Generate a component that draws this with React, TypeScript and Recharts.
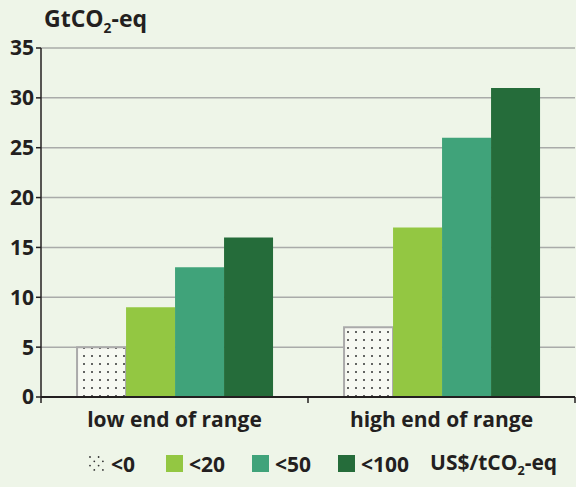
import React from "react";
import { BarChart, Bar, XAxis, YAxis, CartesianGrid } from "recharts";

// values (GtCO2-eq)
const categories = ["low end of range", "high end of range"];
const below0 = [5, 7];
const below20 = [9, 17];
const below50 = [13, 26];
const below100 = [16, 31];
const yTicks = [0, 5, 10, 15, 20, 25, 30, 35];

const series = [
  { key: "p0", label: "<0", values: below0, fill: "url(#dots)", color: "#f7f9f2" },
  { key: "p20", label: "<20", values: below20, fill: "#93c742", color: "#93c742" },
  { key: "p50", label: "<50", values: below50, fill: "#40a37a", color: "#40a37a" },
  { key: "p100", label: "<100", values: below100, fill: "#256c3a", color: "#256c3a" },
];

const data = categories.map((name, i) => {
  const row: Record<string, string | number> = { name };
  series.forEach((s) => (row[s.key] = s.values[i]));
  return row;
});

const W = 576;
const H = 487;
const FONT = "'Open Sans', sans-serif";
const INK = "#231f20";
const BG = "#eef5e8";
const PLOT_LEFT = 41;
const PLOT_RIGHT = 1;
const HALF_BAND = (W - PLOT_LEFT - PLOT_RIGHT) / categories.length / 2;

const CategoryTick = (props: any) => {
  const { x, y, payload, index } = props;
  return (
    <g>
      <line x1={x - HALF_BAND} x2={x - HALF_BAND} y1={y - 8} y2={y - 2} stroke={INK} strokeWidth={1.5} />
      {index === categories.length - 1 && (
        <line x1={x + HALF_BAND} x2={x + HALF_BAND} y1={y - 8} y2={y - 2} stroke={INK} strokeWidth={1.5} />
      )}
      <text x={x} y={y + 22} textAnchor="middle" fill={INK} fontFamily={FONT} fontWeight={700} fontSize={21}>
        {payload.value}
      </text>
    </g>
  );
};

const sub = { fontSize: "0.6em", verticalAlign: "-0.4em" };

export default function App() {
  return (
    <div style={{ position: "absolute", left: 0, top: 0, width: W, height: H, background: BG, fontFamily: FONT, color: INK }}>
      <div style={{ position: "absolute", left: 44, top: 2, fontSize: 23, fontWeight: 700 }}>
        GtCO<sub style={sub}>2</sub>-eq
      </div>
      <BarChart
        width={W}
        height={H}
        data={data}
        margin={{ top: 48, right: PLOT_RIGHT, bottom: 60, left: 0 }}
        barCategoryGap="13.5%"
        barGap={0}
      >
        <defs>
          <pattern id="dots" width={8} height={8} patternUnits="userSpaceOnUse">
            <rect width={8} height={8} fill="#f7f9f2" />
            <circle cx={4} cy={4} r={1} fill="#333" />
          </pattern>
        </defs>
        <CartesianGrid horizontal vertical={false} stroke="#a9aba9" strokeWidth={1.5} />
        <XAxis
          dataKey="name"
          height={30}
          axisLine={{ stroke: INK, strokeWidth: 2 }}
          tickLine={false}
          tick={<CategoryTick />}
          interval={0}
        />
        <YAxis
          width={PLOT_LEFT}
          domain={[0, 35]}
          ticks={yTicks}
          interval={0}
          axisLine={{ stroke: INK, strokeWidth: 1.5 }}
          tickLine={{ stroke: INK, strokeWidth: 1.5 }}
          tickSize={5}
          tick={{ fill: INK, fontFamily: FONT, fontWeight: 700, fontSize: 21 }}
        />
        {series.map((s) => (
          <Bar
            key={s.key}
            dataKey={s.key}
            fill={s.fill}
            stroke={s.key === "p0" ? "#aaaaaa" : "none"}
            strokeWidth={2}
            isAnimationActive={false}
          />
        ))}
      </BarChart>
      <div
        style={{
          position: "absolute",
          top: 448,
          left: 88,
          display: "flex",
          alignItems: "center",
          fontSize: 21,
          fontWeight: 700,
          whiteSpace: "nowrap",
        }}
      >
        {series.map((s, i) => (
          <div key={s.key} style={{ display: "flex", alignItems: "center", marginRight: i === 0 ? 31 : 27 }}>
            <svg width={17} height={17} style={{ marginRight: 6 }}>
              {s.key === "p0" ? (
                [0, 1, 2, 3].map((r) =>
                  [0, 1, 2, 3].map((c) =>
                    (r + c) % 2 === 0 ? <circle key={`${r}-${c}`} cx={2 + c * 4.3} cy={2 + r * 4.3} r={0.9} fill="#333" /> : null
                  )
                )
              ) : (
                <rect width={17} height={17} fill={s.color} />
              )}
            </svg>
            <span>{s.label}</span>
          </div>
        ))}
        <span style={{ marginLeft: -6 }}>
          US$/tCO<sub style={sub}>2</sub>-eq
        </span>
      </div>
    </div>
  );
}
